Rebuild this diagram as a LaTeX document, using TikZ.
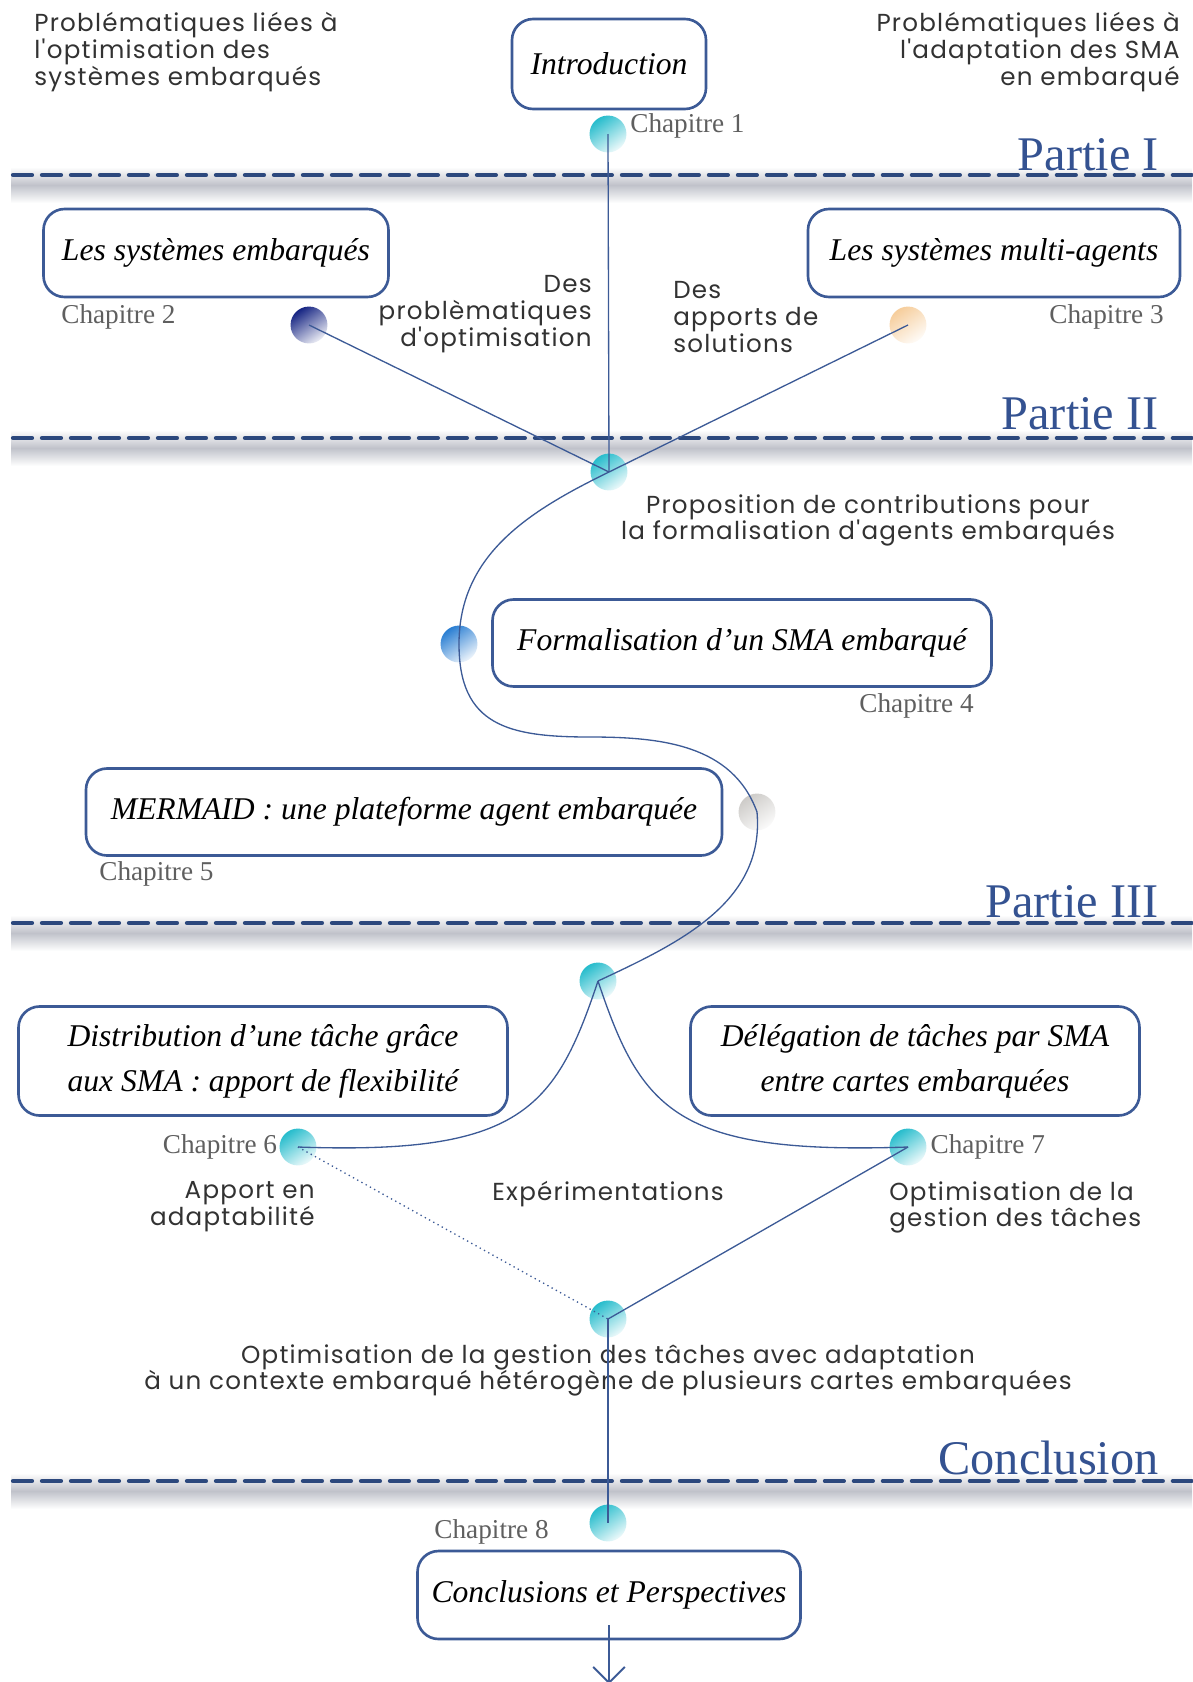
\documentclass[tikz,border=0pt]{standalone}
\usepackage{fontspec}
\setmainfont{Liberation Serif}
\newfontfamily\roundsans[LetterSpace=5]{Poppins}
\usetikzlibrary{positioning,arrows.meta}

\definecolor{lineblue}{RGB}{60,90,150}
\definecolor{dashblue}{RGB}{44,72,125}
\definecolor{partblue}{RGB}{52,82,145}
\definecolor{shadowgray}{RGB}{192,194,202}
\definecolor{chapgray}{RGB}{95,95,95}
\definecolor{txtgray}{RGB}{50,50,50}
\definecolor{dotteal}{RGB}{38,188,204}
\definecolor{dotnavy}{RGB}{20,35,130}
\definecolor{dotpeach}{RGB}{246,205,155}
\definecolor{dotblue}{RGB}{40,125,210}
\definecolor{dotgray}{RGB}{205,203,200}

\begin{document}
\begin{tikzpicture}[x=0.2mm, y=-0.2mm,
  chapbox/.style={draw=lineblue, line width=1.5pt, rounded corners=12pt, fill=white, inner sep=0pt, align=center, font=\fontsize{18}{25.5}\selectfont\itshape},
  chap/.style={text=chapgray, inner sep=0pt, font=\fontsize{15.5}{17}\selectfont},
  part/.style={text=partblue, inner sep=0pt, anchor=base east, font=\fontsize{27.5}{30}\selectfont},
  note/.style={text=txtgray, inner sep=0pt, font=\roundsans\fontsize{14}{15.3}\selectfont},
  chapdot/.style={circle, minimum size=21pt, inner sep=0pt, top color=#1, bottom color=#1!8, shading angle=35},
  link/.style={draw=lineblue, line width=0.75pt},
  sepline/.style={dashblue, line width=2.4pt, line cap=round, dash pattern=on 10.8pt off 5.7pt},
  sepshadow/.style={top color=white, bottom color=white, middle color=shadowgray}]
\useasboundingbox (0,0) rectangle (1192,1682);

% separateurs
\shade[sepshadow] (11,167) rectangle (1192,203);
\draw[sepline] (13,175) -- (1192,175);
\shade[sepshadow] (11,430) rectangle (1192,466);
\draw[sepline] (13,438) -- (1192,438);
\shade[sepshadow] (11,915) rectangle (1192,951);
\draw[sepline] (13,923) -- (1192,923);
\shade[sepshadow] (11,1473) rectangle (1192,1509);
\draw[sepline] (13,1481) -- (1192,1481);

\node[part] (p1) at (1159,170) {Partie I};
\node[part] (p2) at (1159,429) {Partie II};
\node[part] (p3) at (1159,917) {Partie III};
\node[part] (p4) at (1159,1474) {Conclusion};

% chapitres
\node[chapbox, minimum width=38.8mm, minimum height=18mm] (intro) at (609,64) {Introduction};
\node[chapbox, minimum width=69mm, minimum height=17.6mm] (emb) at (216,253) {Les systèmes embarqués};
\node[chapbox, minimum width=74.4mm, minimum height=17.6mm] (sma) at (994,253) {Les systèmes multi-agents};
\node[chapbox, minimum width=99.8mm, minimum height=17.4mm] (form) at (742,643) {Formalisation d'un SMA embarqué};
\node[chapbox, minimum width=127.2mm, minimum height=17.4mm] (merm) at (404,812) {MERMAID : une plateforme agent embarquée};
\node[chapbox, minimum width=97.8mm, minimum height=21.8mm] (distr) at (263,1061) {Distribution d’une tâche grâce\\aux SMA : apport de flexibilité};
\node[chapbox, minimum width=89.8mm, minimum height=21.8mm] (deleg) at (915,1061) {Délégation de tâches par SMA\\entre cartes embarquées};
\node[chapbox, minimum width=76.6mm, minimum height=17.6mm] (concl) at (609,1595) {Conclusions et Perspectives};

% points
\node[chapdot=dotteal] (d1) at (608,134) {};
\node[chapdot=dotnavy] (d2) at (309,325) {};
\node[chapdot=dotpeach] (d3) at (908,325) {};
\node[chapdot=dotteal] (d4) at (609,472) {};
\node[chapdot=dotblue] (d5) at (459,644) {};
\node[chapdot=dotgray] (d6) at (757,812) {};
\node[chapdot=dotteal] (d7) at (598,981) {};
\node[chapdot=dotteal] (d8) at (298,1147) {};
\node[chapdot=dotteal] (d9) at (908,1147) {};
\node[chapdot=dotteal] (d10) at (608,1319) {};
\node[chapdot=dotteal] (d11) at (608,1523) {};

\node[chap, anchor=west] (c1) at (630,126) {Chapitre 1};
\node[chap, anchor=west] (c2) at (61,317) {Chapitre 2};
\node[chap, anchor=east] (c3) at (1164,317) {Chapitre 3};
\node[chap, anchor=east] (c4) at (974,706) {Chapitre 4};
\node[chap, anchor=west] (c5) at (99,874) {Chapitre 5};
\node[chap, left=1pt of d8] (c6) {Chapitre 6};
\node[chap, right=2pt of d9] (c7) {Chapitre 7};
\node[chap, anchor=east] (c8) at (549,1532) {Chapitre 8};

% textes
\node[note, anchor=north west, align=left] (t1) at (34,12) {Problématiques liées à\\l'optimisation des\\systèmes embarqués};
\node[note, anchor=north east, align=right] (t2) at (1180,12) {Problématiques liées à\\l'adaptation des SMA\\en embarqué};
\node[note, anchor=north east, align=right] (t3) at (592,275) {Des\\problèmatiques\\d'optimisation};
\node[note, anchor=north west, align=left] (t4) at (673,281) {Des\\apports de\\solutions};
\node[note, anchor=north, align=center] (t5) at (868,494) {Proposition de contributions pour\\la formalisation d'agents embarqués};
\node[note, anchor=north east, align=right] (t6) at (315,1181) {Apport en\\adaptabilité};
\node[note, anchor=north] (t7) at (608,1181) {Expérimentations};
\node[note, anchor=north west, align=left] (t8) at (889,1181) {Optimisation de la\\gestion des tâches};
\node[note, anchor=north, align=center] (t9) at (608,1344) {Optimisation de la gestion des tâches avec adaptation\\à un contexte embarqué hétérogène de plusieurs cartes embarquées};

% liens
\coordinate (bend) at (590,737);
\draw[link] (d1.center) -- (d4.center);
\draw[link] (d2.center) -- (d4.center);
\draw[link] (d3.center) -- (d4.center);
\draw[link] (d4.center) to[out=206,in=90] (d5.center);
\draw[link] (d5.center) to[out=-90,in=180,looseness=1.3] (bend) to[out=0,in=110] (d6.center);
\draw[link] (d6.center) to[out=-85,in=25] (d7.center);
\draw[link] (d7.center) .. controls (555,1110) and (520,1155) .. (d8.center);
\draw[link] (d7.center) .. controls (641,1110) and (676,1155) .. (d9.center);
\draw[link, dotted] (d8.center) -- (d10.center);
\draw[link] (d9.center) -- (d10.center);
\draw[link] (d10.center) -- (d11.center);

\coordinate (a1) at (609,1625);
\coordinate (a2) at (609,1684);
\draw[->, >={Straight Barb[length=9pt,width=18pt]}, lineblue, line width=1.1pt] (a1) -- (a2);
\end{tikzpicture}
\end{document}
